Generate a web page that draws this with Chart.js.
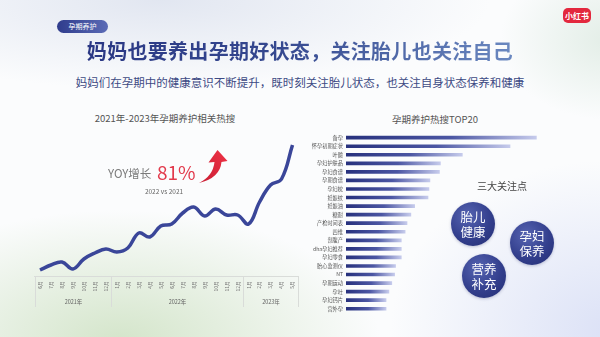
<!DOCTYPE html>
<html>
<head>
<meta charset="utf-8">
<script src="https://cdn.jsdelivr.net/npm/chart.js@4/dist/chart.umd.min.js"></script>
<style>
  html, body { margin: 0; padding: 0; }
  body {
    width: 600px; height: 337px; overflow: hidden; position: relative;
    font-family: "Noto Sans CJK SC", "Noto Sans", sans-serif;
    background:
      radial-gradient(ellipse 260px 130px at 120px 340px, rgba(210,228,200,0.95), rgba(210,228,200,0) 100%),
      radial-gradient(ellipse 220px 170px at 610px 330px, rgba(218,224,246,0.95), rgba(218,224,246,0) 100%),
      radial-gradient(ellipse 330px 90px at 160px 0px, rgba(224,229,240,0.95), rgba(224,229,240,0) 100%),
      radial-gradient(ellipse 110px 80px at 610px 40px, rgba(224,236,228,0.9), rgba(224,236,228,0) 100%),
      #fbfcfd;
  }
  .abs { position: absolute; white-space: nowrap; }
  .logo {
    left: 563px; top: 8px; width: 28px; height: 15px; border-radius: 5px;
    background: #e3283e; color: #fff; font-size: 8px; font-weight: 700;
    text-align: center; line-height: 15px;
  }
  .pill {
    left: 57px; top: 20px; width: 51px; height: 13px; border-radius: 7px;
    background: linear-gradient(90deg, #2f3c8c, #5b6bb6);
    color: #fff; font-size: 7px; text-align: center; line-height: 13px;
  }
  .title {
    left: 0; width: 600px; top: 38px; text-align: center;
    font-size: 20px; font-weight: 700; line-height: 26px; letter-spacing: 0.3px;
  }
  .title span {
    background: linear-gradient(90deg, #2a3784, #35488f 45%, #6a88c0);
    -webkit-background-clip: text; background-clip: text; color: transparent;
  }
  .subtitle {
    left: 0; width: 600px; top: 74px; text-align: center;
    font-size: 11.5px; line-height: 16px; color: #3d4a84;
  }
  .chart-title { font-size: 9.5px; color: #555; line-height: 12px; text-align: center; }
  .bubble {
    width: 44px; height: 44px; border-radius: 50%;
    background: radial-gradient(circle at 38% 32%, #5664b2, #333f8d 55%, #232d72);
    color: #fff; font-size: 12.5px; line-height: 15px; text-align: center;
    display: flex; align-items: center; justify-content: center;
    box-shadow: 0 1px 3px rgba(30,40,100,0.25);
  }
  .wrap { position: absolute; }
</style>
</head>
<body>
<div class="abs logo">小红书</div>
<div class="abs pill">孕期养护</div>
<div class="abs title"><span>妈妈也要养出孕期好状态，关注胎儿也关注自己</span></div>
<div class="abs subtitle">妈妈们在孕期中的健康意识不断提升，既时刻关注胎儿状态，也关注自身状态保养和健康</div>

<div class="abs chart-title" style="left:65px; width:200px; top:112px;">2021年-2023年孕期养护相关热搜</div>
<div class="abs chart-title" style="left:335px; width:200px; top:113px;">孕期养护热搜TOP20</div>

<div class="wrap" style="left:0; top:130px; width:310px; height:190px;"><canvas id="trendChart"></canvas></div>
<div class="wrap" style="left:300px; top:120px; width:250px; height:200px;"><canvas id="topChart"></canvas></div>

<div class="abs" style="left:108px; top:163px; font-size:11.5px; color:#7a7a7a; line-height:20px;">YOY增长</div>
<div class="abs" style="left:157px; top:160px; font-size:19px; color:#e23a4c; line-height:24px;">81%</div>
<div class="abs" style="left:134px; top:187px; width:60px; text-align:center; font-size:6.5px; color:#666; line-height:9px;">2022 vs 2021</div>
<svg class="abs" style="left:0; top:0;" width="600" height="337">
  <defs>
    <linearGradient id="arrowRed" x1="0" y1="1" x2="1" y2="0">
      <stop offset="0" stop-color="#c81d33"/>
      <stop offset="1" stop-color="#ef3346"/>
    </linearGradient>
  </defs>
  <path d="M199,183 Q220,178 221.5,162 L227.5,161 L217.5,150 L208.5,162.5 L214.5,162 Q213,176 199,183 Z" fill="url(#arrowRed)"/>
</svg>

<div class="abs chart-title" style="left:452px; width:100px; top:180px; font-size:10px; color:#444;">三大关注点</div>
<div class="abs bubble" style="left:451px; top:202px;">胎儿<br>健康</div>
<div class="abs bubble" style="left:510px; top:221px;">孕妇<br>保养</div>
<div class="abs bubble" style="left:462px; top:254px;">营养<br>补充</div>

<script>
// monthly search heat, Jun 2021 - May 2023
const months = ['6月', '7月', '8月', '9月', '10月', '11月', '12月',
    '1月', '2月', '3月', '4月', '5月', '6月', '7月', '8月', '9月', '10月', '11月', '12月',
    '1月', '2月', '3月', '4月', '5月'];
const heat = [6, 11, 14, 7, 17, 23, 27, 24, 28, 43, 39, 50, 52, 63, 69, 60, 67, 61, 61, 52, 74, 91, 97, 131];
const years = ['2021年', '2022年', '2023年'];
const monthsPerYear = [7, 12, 5];

// top searched keywords
const keywords = ['备孕', '怀孕初期症状', '叶酸', '孕妇护肤品', '孕妇食谱', '孕期食谱', '孕妇枕', '妊娠纹',
    '妊娠油', '糖耐', '产检时间表', '四维', '剖腹产', 'dha孕妇推荐', '孕妇零食', '胎心监测仪', 'NT',
    '孕期运动', '孕吐', '孕妇钙片', '宫外孕'];
const keywordHeat = [100, 86, 61, 49.5, 49, 44, 43.5, 43, 36, 34, 32, 31, 29, 29, 29, 26, 25.5, 24, 22.5, 21, 21];

const FONT = '"Noto Sans CJK SC", "Noto Sans", sans-serif';

// year row under the month labels
const yearGroups = {
    id: 'yearGroups',
    afterDraw(chart) {
        const { ctx, chartArea, scales } = chart;
        const x = scales.x;
        const step = x.getPixelForValue(1) - x.getPixelForValue(0);
        const top = chartArea.bottom;
        const bottom = top + 31;
        ctx.save();
        ctx.strokeStyle = '#d9dcd9';
        ctx.lineWidth = 1;
        ctx.fillStyle = '#666';
        ctx.font = '5.5px ' + FONT;
        ctx.textAlign = 'center';
        ctx.textBaseline = 'middle';
        let start = 0;
        const edge = i => Math.round(x.getPixelForValue(i) - step / 2) + 0.5;
        ctx.beginPath();
        ctx.moveTo(edge(0), top);
        ctx.lineTo(edge(0), bottom);
        monthsPerYear.forEach((n, k) => {
            const end = start + n;
            ctx.moveTo(edge(end), top);
            ctx.lineTo(edge(end), bottom);
            ctx.fillText(years[k], (edge(start) + edge(end)) / 2, top + 26);
            start = end;
        });
        ctx.stroke();
        ctx.restore();
    }
};

new Chart(document.getElementById('trendChart'), {
    type: 'line',
    data: {
        labels: months,
        datasets: [{
            data: heat,
            borderColor: '#3a4699',
            borderWidth: 3.5,
            tension: 0.4,
            pointRadius: 0,
            clip: false,
            fill: false
        }]
    },
    options: {
        responsive: true,
        maintainAspectRatio: false,
        animation: false,
        layout: { padding: { left: 34.5, right: 12, top: 10, bottom: 0 } },
        plugins: { legend: { display: false }, tooltip: { enabled: false } },
        scales: {
            x: {
                offset: true,
                grid: { display: false, drawTicks: false },
                border: { display: true, color: '#d9dcd9', width: 1 },
                ticks: {
                    autoSkip: false, minRotation: 90, maxRotation: 90, padding: 5,
                    color: '#777', font: { size: 5, family: FONT }
                },
                afterFit(scale) { scale.height = 44; }
            },
            y: { display: false, min: 0, max: 136 }
        }
    },
    plugins: [yearGroups]
});

new Chart(document.getElementById('topChart'), {
    type: 'bar',
    data: {
        labels: keywords,
        datasets: [{
            data: keywordHeat,
            barThickness: 3,
            backgroundColor(c) {
                const chart = c.chart;
                if (!chart.chartArea) return '#2b3585';
                const x = chart.scales.x;
                const x0 = x.getPixelForValue(0);
                const x1 = x.getPixelForValue(c.raw);
                const g = chart.ctx.createLinearGradient(x0, 0, x1, 0);
                g.addColorStop(0, '#27317d');
                g.addColorStop(0.55, '#4b56a3');
                g.addColorStop(1, '#c6cbec');
                return g;
            }
        }]
    },
    options: {
        indexAxis: 'y',
        responsive: true,
        maintainAspectRatio: false,
        animation: false,
        layout: { padding: { left: 0, right: 13.3, top: 13.4, bottom: 7 } },
        plugins: { legend: { display: false }, tooltip: { enabled: false } },
        scales: {
            x: { display: false, min: 0, max: 100 },
            y: {
                grid: { display: false, drawTicks: false },
                border: { display: false },
                ticks: { autoSkip: false, padding: 3, color: '#555', font: { size: 5.2, family: FONT } },
                afterFit(scale) { scale.width = 46; }
            }
        }
    }
});
</script>
</body>
</html>
